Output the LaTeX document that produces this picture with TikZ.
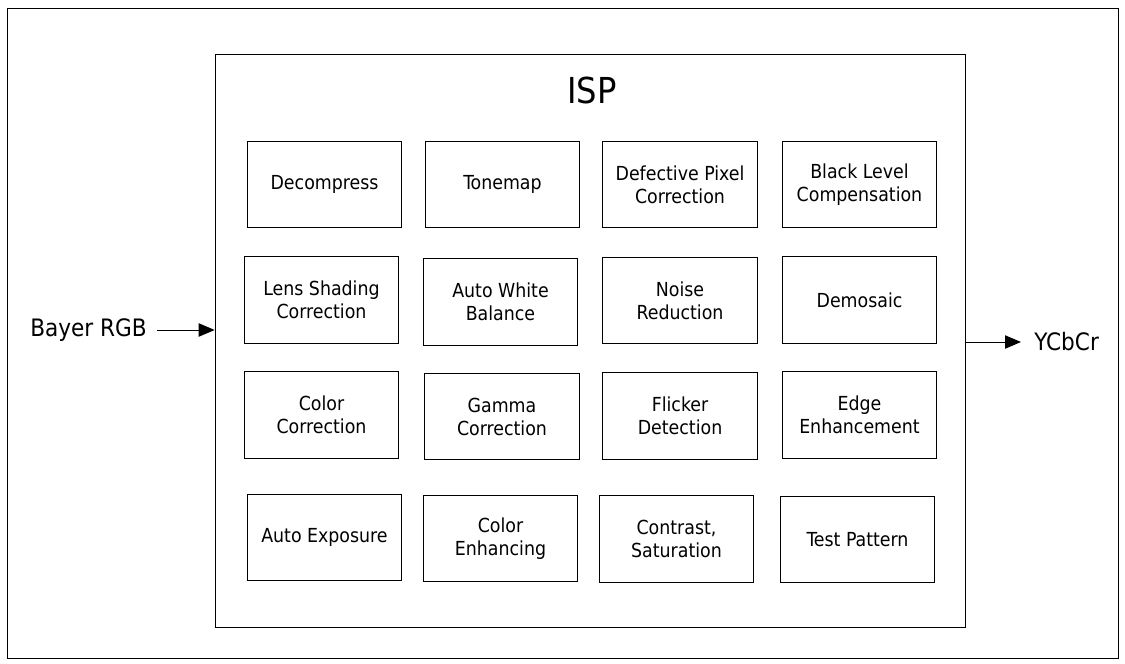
\documentclass[tikz,border=0pt]{standalone}
\usepackage{fontspec}
\setmainfont{DejaVu Sans Condensed}
\usetikzlibrary{arrows.meta}
\tikzset{
  stage/.style={draw, line width=0.75pt, minimum width=116pt, minimum height=65pt,
    align=center, inner sep=2pt, font=\fontsize{14.5}{17.25}\selectfont},
  io/.style={inner sep=0pt, font=\fontsize{18}{21}\selectfont},
  flow/.style={line width=0.75pt, -{Triangle[length=12pt,width=10pt]}}
}
\begin{document}
\begin{tikzpicture}[x=0.75pt, y=-0.75pt]
\useasboundingbox (0,0) rectangle (1125,664);
% outer frame
\draw[line width=0.75pt] (7,8) rectangle (1118,658);
% ISP block
\node[draw, line width=0.75pt, minimum width=563pt, minimum height=430pt] (isp) at (590.5,341) {};
\node[font=\fontsize{26.8}{30}\selectfont] (title) at (592,90) {ISP};
% row 1
\node[stage] (decomp) at (324.5,184.5) {Decompress};
\node[stage] (tonemap) at (502.5,184.5) {Tonemap};
\node[stage] (dpc) at (680,184.5) {Defective Pixel\\Correction};
\node[stage] (blc) at (859.5,184.5) {Black Level\\Compensation};
% row 2
\node[stage] (lsc) at (321.5,300) {Lens Shading\\Correction};
\node[stage] (awb) at (500.5,302) {Auto White\\Balance};
\node[stage] (nr) at (680,300.5) {Noise\\Reduction};
\node[stage] (demosaic) at (859.5,300) {Demosaic};
% row 3
\node[stage] (ccm) at (321.5,415) {Color\\Correction};
\node[stage] (gamma) at (502,416.5) {Gamma\\Correction};
\node[stage] (flicker) at (680,416) {Flicker\\Detection};
\node[stage] (edge) at (859.5,415) {Edge\\Enhancement};
% row 4
\node[stage] (ae) at (324.5,537.5) {Auto Exposure};
\node[stage] (cenh) at (500.5,538.5) {Color\\Enhancing};
\node[stage] (csat) at (676.5,539) {Contrast,\\Saturation};
\node[stage] (tpg) at (857.5,539.5) {Test Pattern};
% input and output
\node[io, anchor=east] (bayer) at (147,330) {Bayer RGB};
\node[io, anchor=west] (ycbcr) at (1034,342) {YCbCr};
\draw[flow, shorten <=7.5pt] (bayer.east) -- (bayer.east -| isp.west);
\draw[flow, shorten >=9.75pt] (ycbcr.west -| isp.east) -- (ycbcr.west);
\end{tikzpicture}
\end{document}
